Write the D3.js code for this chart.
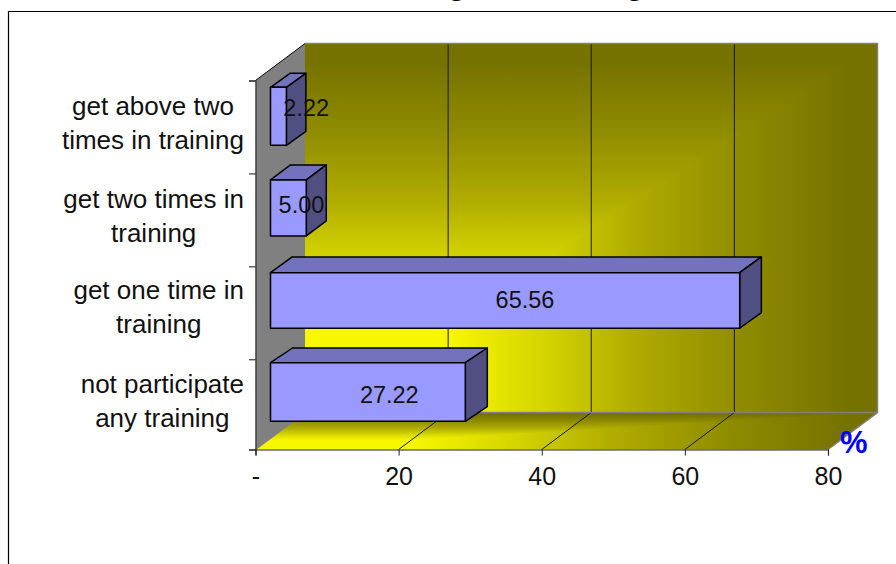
<!DOCTYPE html>
<html>
<head>
<meta charset="utf-8">
<script src="https://cdn.jsdelivr.net/npm/d3@7"></script>
<style>
  html, body { margin: 0; padding: 0; background: #fff; }
  svg { display: block; }
  text { font-family: "Liberation Sans", Arial, sans-serif; fill: #111; }
</style>
</head>
<body>
<svg id="chart" width="896" height="564"></svg>
<script>
// Chart values, listed from the bottom row upward
const categoryLines = [
  ["not participate", "any training"],
  ["get one time in", "training"],
  ["get two times in", "training"],
  ["get above two", "times in training"]
];
const values = [27.22, 65.56, 5.00, 2.22];
const valueTicks = [0, 20, 40, 60, 80];
const axisUnit = "%";
const titleGlyphs = ["g", "g"];

const svg = d3.select("#chart");
const defs = svg.append("defs");

// Plot box: the front plane plus the receding depth of the walls.
// Row positions run 0..4 up the axis; the bottom row is slightly shorter.
const x = d3.scaleLinear().domain([0, 80]).range([255.5, 828]);
const rowEdges = d3.scaleLinear().domain([0, 1, 4]).range([449.5, 359.3, 80.5]);
const depth = { x: 49.5, y: -37 };

// Bars sit a little into the box and have their own depth per row
const barInsetX = 15;
const barLift = [-12.4, -12.4, -12, -10.7];
const barHeights = [58.6, 55.6, 56, 58];
const barDepthX = [22, 21.7, 20, 19.5];
const barDepthY = [14.7, 15.7, 15, 14];
const labelNudge = [[21.4, 10.7], [19.9, 7.5], [13.1, 5], [27.8, -0.6]];
const labelLift = [5.6, 3, 4.7, 4.7];

const colors = {
  bright: "#f7f700", dark: "#767200", side: "#808080", edge: "#808080",
  barFront: "#9999ff", barTop: "#7373bd", barSide: "#4f4f82"
};
const rampStops = [
  [0, colors.bright], [0.25, colors.bright], [0.42, "#d4d400"],
  [0.575, "#b0ac00"], [0.765, "#8f8b00"], [0.95, colors.dark], [1, colors.dark]
];

const pts = a => a.map(p => p.join(",")).join(" ");

// "From corner" fill: brightness depends on the larger of the horizontal and
// vertical distances from the lower-left corner of the box. A horizontal ramp
// covers the shape and a vertical ramp covers the part above the box diagonal.
function cornerFill(id, poly) {
  const xs = poly.map(p => p[0]), ys = poly.map(p => p[1]);
  const [l, r] = d3.extent(xs), [t, b] = d3.extent(ys);
  const ramp = (name, x1, y1, x2, y2) => {
    defs.append("linearGradient").attr("id", name)
      .attr("gradientUnits", "userSpaceOnUse")
      .attr("x1", x1).attr("y1", y1).attr("x2", x2).attr("y2", y2)
      .selectAll("stop").data(rampStops).join("stop")
      .attr("offset", d => d[0]).attr("stop-color", d => d[1]);
  };
  ramp(id + "-h", l, 0, r, 0);
  ramp(id + "-v", 0, b, 0, t);
  defs.append("clipPath").attr("id", id + "-clip")
    .append("polygon").attr("points", pts([[l, b], [r, t], [l, t]]));
  svg.append("polygon").attr("points", pts(poly)).attr("fill", `url(#${id}-h)`);
  svg.append("polygon").attr("points", pts(poly)).attr("fill", `url(#${id}-v)`)
    .attr("clip-path", `url(#${id}-clip)`);
}

// Outer frame, running off the bottom and right of the page
svg.append("path").attr("d", "M8.5,564V11.5H896").attr("fill", "none")
  .attr("stroke", "#000").attr("stroke-width", 1.2);

// Title, of which only the descenders stay on the page
svg.selectAll(".title").data(titleGlyphs).join("text")
  .attr("class", "title")
  .attr("x", (d, i) => [457, 635][i]).attr("y", -5.5)
  .attr("text-anchor", "middle")
  .attr("font-size", 30).attr("font-weight", "bold")
  .style("fill", "#000").text(d => d);

const x0 = x(0), x1 = x(80), yB = rowEdges(0), yT = rowEdges(4);

// Back wall, floor and side wall
cornerFill("wall", [[x0 + depth.x, yB + depth.y], [x1 + depth.x, yB + depth.y],
                    [x1 + depth.x, yT + depth.y], [x0 + depth.x, yT + depth.y]]);
svg.append("polygon")
  .attr("points", pts([[x0, yB], [x0 + depth.x, yB + depth.y], [x0 + depth.x, yT + depth.y], [x0, yT]]))
  .attr("fill", colors.side);
cornerFill("floor", [[x0, yB], [x1, yB], [x1 + depth.x, yB + depth.y], [x0 + depth.x, yB + depth.y]]);

// Gridlines across the floor and up the back wall
const gridValues = valueTicks.filter(v => v > 0 && v < 80);
svg.selectAll(".grid").data(gridValues).join("path")
  .attr("class", "grid").attr("fill", "none")
  .attr("stroke", "#1a1a00").attr("stroke-width", 1)
  .attr("d", v => `M${x(v)},${yB}L${x(v) + depth.x},${yB + depth.y}V${yT + depth.y}`);

// Wall outlines
svg.append("path").attr("fill", "none").attr("stroke", colors.edge).attr("stroke-width", 1.5)
  .attr("d", `M${x0 + depth.x},${yT + depth.y}H${x1 + depth.x}V${yB + depth.y}L${x1},${yB}` +
             `M${x0},${yB}L${x0 + depth.x},${yB + depth.y}H${x1 + depth.x}`);
svg.append("path").attr("fill", "none").attr("stroke", "#000").attr("stroke-width", 1)
  .attr("d", `M${x0},${yT}L${x0 + depth.x},${yT + depth.y}`);

// Axes
const axisBottom = d3.axisBottom(x).tickValues(valueTicks).tickSize(6).tickPadding(11.5)
  .tickFormat(v => v === 0 ? "-" : d3.format("d")(v));
const gx = svg.append("g").attr("transform", `translate(0,${yB})`).call(axisBottom);
gx.select(".domain").attr("stroke", "#222").attr("stroke-width", 1.2);
gx.selectAll(".tick line").attr("stroke", "#222");
gx.selectAll("text").attr("font-size", 25).attr("font-family", null).style("fill", "#111");

const axisLeft = d3.axisLeft(rowEdges).tickValues(d3.range(5)).tickSize(6.5).tickFormat("");
const gy = svg.append("g").attr("transform", `translate(${x0},0)`).call(axisLeft);
gy.select(".domain").attr("stroke", "#333").attr("stroke-width", 1.2);
gy.selectAll(".tick line").attr("stroke", "#111");

// Bars: front, top and side faces
const bars = svg.selectAll(".bar").data(values).join("g").attr("class", "bar")
  .attr("stroke", "#000").attr("stroke-width", 1.5).attr("stroke-linejoin", "round");
const rowMid = i => rowEdges(i + 0.5);
const frontY = i => rowMid(i) + barLift[i] - barHeights[i] / 2;
const left = x0 + barInsetX;
const right = v => x(v) + barInsetX;

bars.append("polygon").attr("fill", colors.barTop).attr("points", (v, i) => {
  const t = frontY(i);
  return pts([[left, t], [right(v), t], [right(v) + barDepthX[i], t - barDepthY[i]], [left + barDepthX[i], t - barDepthY[i]]]);
});
bars.append("polygon").attr("fill", colors.barSide).attr("points", (v, i) => {
  const t = frontY(i);
  return pts([[right(v), t], [right(v) + barDepthX[i], t - barDepthY[i]],
              [right(v) + barDepthX[i], t - barDepthY[i] + barHeights[i]], [right(v), t + barHeights[i]]]);
});
bars.append("rect").attr("fill", colors.barFront)
  .attr("x", left).attr("y", (v, i) => frontY(i))
  .attr("width", v => right(v) - left).attr("height", (v, i) => barHeights[i]);

// Value labels
svg.selectAll(".value").data(values).join("text").attr("class", "value")
  .attr("text-anchor", "middle").attr("font-size", 23.5)
  .attr("x", (v, i) => (left + right(v)) / 2 + labelNudge[i][0])
  .attr("y", (v, i) => frontY(i) + barHeights[i] / 2 + labelNudge[i][1])
  .text(v => d3.format(".2f")(v));

// Two-line category labels, centred as blocks against the axis
const labelRight = 244, lineGap = 34;
categoryLines.forEach((rows, i) => {
  const centre = rowMid(i) + labelLift[i];
  const block = svg.append("g").attr("class", "category");
  const lines = block.selectAll("text").data(rows).join("text")
    .attr("text-anchor", "middle").attr("font-size", 26)
    .attr("y", (d, k) => centre + (k - 0.5) * lineGap).text(d => d);
  const widest = d3.max(lines.nodes(), n => n.getComputedTextLength());
  lines.attr("x", labelRight - widest / 2);
});

// Unit mark at the end of the value axis
svg.append("text").attr("x", 853.7).attr("y", 453)
  .attr("text-anchor", "middle").attr("font-size", 31).attr("font-weight", "bold")
  .style("fill", "#0000ff").text(axisUnit);
</script>
</body>
</html>
